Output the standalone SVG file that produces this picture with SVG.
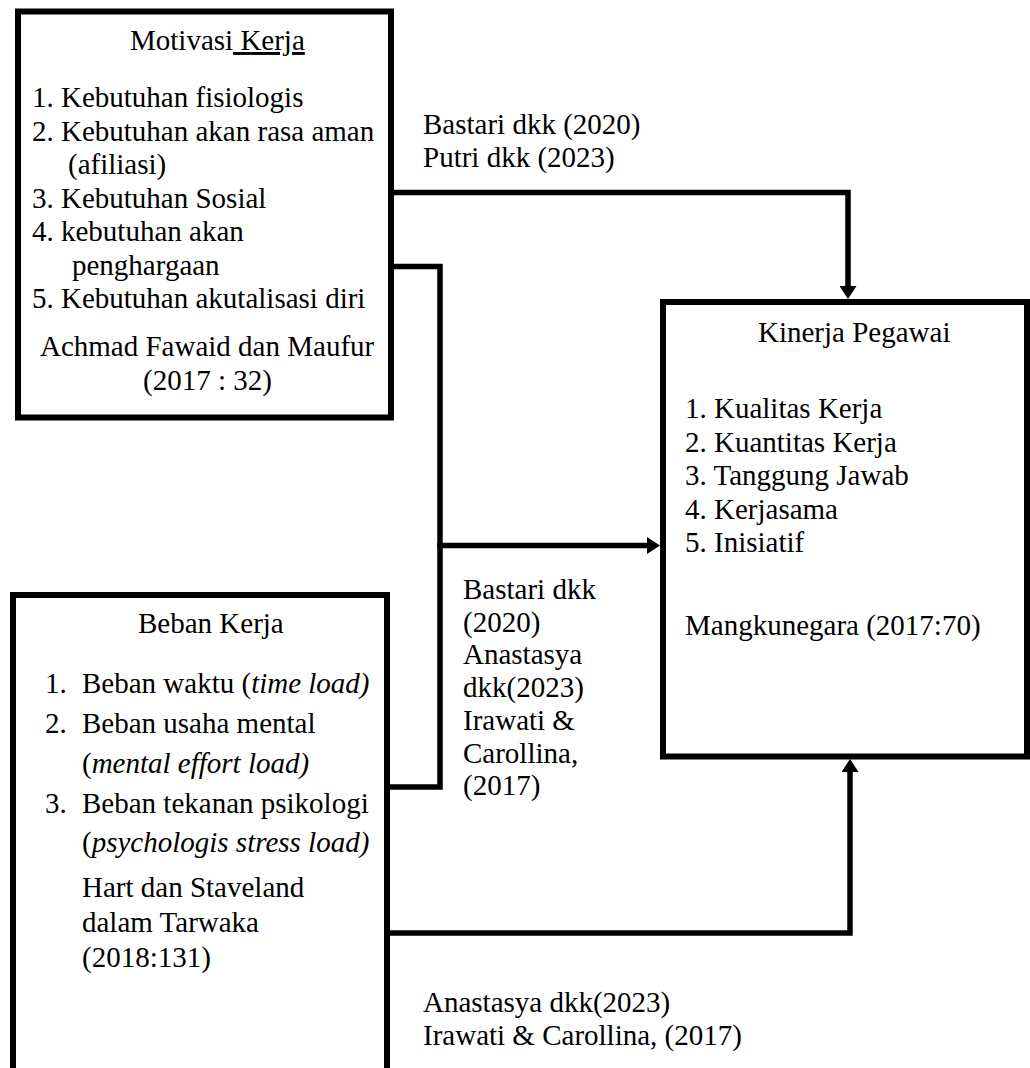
<svg xmlns="http://www.w3.org/2000/svg" width="1030" height="1068" viewBox="0 0 1030 1068" font-family="'Liberation Serif', 'Times New Roman', Times, 'DejaVu Serif', serif" font-size="29">
  <style>
    text { font-family: 'Liberation Serif', 'Times New Roman', Times, 'DejaVu Serif', serif; font-size: 29px; fill: #000; }
    .box { fill: #fff; stroke: #000; stroke-width: 6; }
    .conn { fill: none; stroke: #000; stroke-width: 5.5; stroke-linejoin: miter; stroke-linecap: square; }
    .it { font-style: italic; }
  </style>
  <defs>
    <marker id="arr" viewBox="0 0 13 17" refX="0" refY="8.5" markerWidth="13" markerHeight="17" markerUnits="userSpaceOnUse" orient="auto">
      <path d="M0,0 L13,8.5 L0,17 Z" fill="#000"/>
    </marker>
  </defs>

  <g id="motivasi">
    <rect class="box" x="18" y="11.5" width="373" height="406"/>
    <text x="130" y="50">Motivasi<tspan text-decoration="underline"> Kerja</tspan></text>
    <text x="32" y="107">1. Kebutuhan fisiologis</text>
    <text x="32" y="140.5">2. Kebutuhan akan rasa aman</text>
    <text x="68" y="174">(afiliasi)</text>
    <text x="32" y="207.5">3. Kebutuhan Sosial</text>
    <text x="32" y="241">4. kebutuhan akan</text>
    <text x="72" y="274.5">penghargaan</text>
    <text x="32" y="308">5. Kebutuhan akutalisasi diri</text>
    <text x="40" y="356">Achmad Fawaid dan Maufur</text>
    <text x="143" y="390">(2017 : 32)</text>
  </g>

  <g id="kinerja">
    <rect class="box" x="663" y="302" width="364" height="454.5"/>
    <text x="758" y="341.5">Kinerja Pegawai</text>
    <text x="685" y="418">1. Kualitas Kerja</text>
    <text x="685" y="451.5">2. Kuantitas Kerja</text>
    <text x="685" y="485">3. Tanggung Jawab</text>
    <text x="685" y="518.5">4. Kerjasama</text>
    <text x="685" y="552">5. Inisiatif</text>
    <text x="685" y="635">Mangkunegara (2017:70)</text>
  </g>

  <g id="beban">
    <rect class="box" x="13" y="595" width="374" height="500"/>
    <text x="138" y="633">Beban Kerja</text>
    <text x="45" y="693">1.</text>
    <text x="82" y="693">Beban waktu (<tspan class="it">time load)</tspan></text>
    <text x="45" y="733">2.</text>
    <text x="82" y="733">Beban usaha mental</text>
    <text x="82" y="773">(<tspan class="it">mental effort load)</tspan></text>
    <text x="45" y="813">3.</text>
    <text x="82" y="813">Beban tekanan psikologi</text>
    <text x="82" y="852">(<tspan class="it">psychologis stress load)</tspan></text>
    <text x="82" y="897">Hart dan Staveland</text>
    <text x="82" y="932">dalam Tarwaka</text>
    <text x="82" y="967">(2018:131)</text>
  </g>

  <g id="connectors">
    <path class="conn" d="M394,192.5 H848 V286" marker-end="url(#arr)"/>
    <path class="conn" d="M394,266.5 H440 V787 H390"/>
    <path class="conn" d="M440,545.5 H647" marker-end="url(#arr)"/>
    <path class="conn" d="M390,933 H850 V772" marker-end="url(#arr)"/>
  </g>

  <g id="labels">
    <text x="423" y="133.5">Bastari dkk (2020)</text>
    <text x="423" y="167">Putri dkk (2023)</text>
    <text x="463" y="599">Bastari dkk</text>
    <text x="463" y="631.7">(2020)</text>
    <text x="463" y="664.4">Anastasya</text>
    <text x="463" y="697.1">dkk(2023)</text>
    <text x="463" y="729.8">Irawati &amp;</text>
    <text x="463" y="762.5">Carollina,</text>
    <text x="463" y="795.2">(2017)</text>
    <text x="423" y="1012">Anastasya dkk(2023)</text>
    <text x="423" y="1045">Irawati &amp; Carollina, (2017)</text>
  </g>
</svg>
